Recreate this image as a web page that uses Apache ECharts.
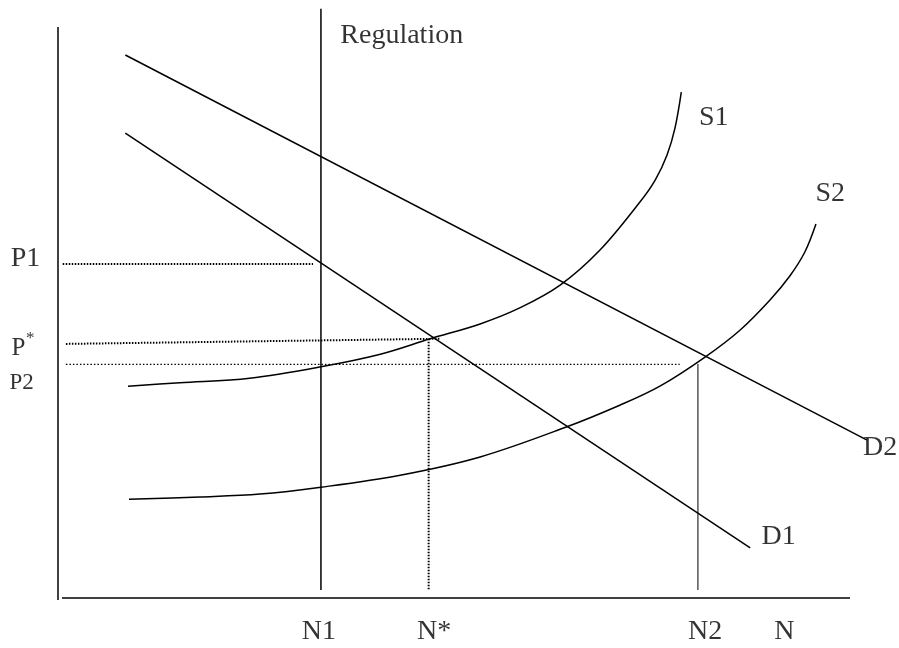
<!DOCTYPE html>
<html><head><meta charset="utf-8">
<script src="https://cdn.jsdelivr.net/npm/echarts@6/dist/echarts.min.js"></script>
<style>html,body{margin:0;padding:0;background:#fff}#c{width:899px;height:648px}</style>
</head><body><div id="c"></div>
<script>
// Data (abstract units: quantity N on x, price P on y; axes drawn 0..100)
const demandD1 = [[8.5, 81.4], [87.4, 8.8]];
const demandD2 = [[8.5, 95.1], [102.1, 27.7]];
const supplyS1 = [[8.84, 37.1], [15.4, 37.7], [24.2, 38.5], [33.2, 40.5], [40.7, 42.7], [47.0, 45.4], [53.3, 48.0], [58.3, 50.8], [63.4, 54.8], [68.4, 60.9], [73.5, 69.4], [75.4, 73.2], [76.9, 77.6], [77.9, 82.3], [78.7, 88.6]];
const supplyS2 = [[8.96, 17.3], [17.9, 17.7], [25.5, 18.2], [33.2, 19.4], [43.2, 21.5], [53.3, 24.7], [64.1, 29.9], [71.0, 33.8], [76.0, 37.1], [81.7, 42.2], [86.1, 46.9], [89.9, 52.2], [92.4, 56.4], [94.3, 60.6], [95.7, 65.5]];
const priceAxisLine = [[0, 100], [0, -0.35]];
const quantityAxisLine = [[0.5, 0], [100, 0]];
const regulationLine = [[33.2, 103.2], [33.2, 1.4]];
const nStarLine = [[46.8, 45.4], [46.8, 1.4]];
const n2Line = [[80.8, 41.0], [80.8, 1.4]];
const p1Line = [[0.6, 58.5], [32.2, 58.5]];
const pStarLine = [[1.0, 44.5], [48.2, 45.4]];
const p2Line = [[1.0, 40.9], [78.5, 40.9]];
const curveLabels = [['Regulation', 43.4, 98.4], ['S1', 82.8, 84.2], ['S2', 97.5, 70.9], ['D2', 103.8, 26.3], ['D1', 91.0, 10.7]];
const priceLabels = [['P1', -4.1, 59.4], ['P', -5.0, 43.7], ['P2', -4.6, 37.7]];
const starLabels = [['*', -3.5, 45.5]];
const quantityLabels = [['N1', 32.95, -5.95], ['N*', 47.5, -5.95], ['N2', 81.7, -5.95], ['N', 91.7, -5.95]];

const FONT = '"Liberation Serif", "Times New Roman", serif';
const chart = echarts.init(document.getElementById('c'), null, {renderer: 'canvas'});

function lineSeries(data, width, type) {
  return {
    type: 'line', data: data, showSymbol: false, symbol: 'none', clip: false, silent: true,
    lineStyle: {color: '#000', width: width, type: type || 'solid'}, z: 3
  };
}
function smoothSeries(data) {
  const s = lineSeries(data, 1.5);
  s.smooth = 0.35;
  return s;
}
function labelSeries(items, sizeMap) {
  return {
    type: 'scatter', symbolSize: 1, clip: false, silent: true,
    itemStyle: {color: 'transparent'},
    data: items.map(function (d) {
      return {name: d[0], value: [d[1], d[2]], label: {fontSize: sizeMap[d[0]] || 28}};
    }),
    label: {show: true, position: 'inside', formatter: '{b}', color: '#000',
      fontFamily: FONT, align: 'center', verticalAlign: 'middle'},
    z: 5
  };
}
const sizes = {'Regulation': 28, 'S1': 28, 'S2': 28, 'D1': 28, 'D2': 28, 'P1': 28, 'P': 25, 'P2': 23, '*': 17,
  'N1': 28, 'N*': 28, 'N2': 28, 'N': 28};

chart.setOption({
  backgroundColor: '#fff',
  animation: false,
  grid: {left: 58, right: 9.4, top: 27, bottom: 50},
  xAxis: {type: 'value', min: 0, max: 105, show: true, axisLine: {show: false},
    axisTick: {show: false}, axisLabel: {show: false}, splitLine: {show: false}},
  yAxis: {type: 'value', min: 0, max: 100, show: true, axisLine: {show: false},
    axisTick: {show: false}, axisLabel: {show: false}, splitLine: {show: false}},
  series: [
    lineSeries(priceAxisLine, 1.5),
    lineSeries(quantityAxisLine, 1.5),
    lineSeries(regulationLine, 1.5),
    lineSeries(nStarLine, 2, [1.5, 1.5]),
    lineSeries(n2Line, 1),
    lineSeries(p1Line, 2, [1.5, 1.5]),
    lineSeries(pStarLine, 2, [1.5, 1.5]),
    lineSeries(p2Line, 1.2, [1.5, 2]),
    lineSeries(demandD1, 1.5),
    lineSeries(demandD2, 1.5),
    smoothSeries(supplyS1),
    smoothSeries(supplyS2),
    labelSeries(curveLabels, sizes),
    labelSeries(priceLabels, sizes),
    labelSeries(starLabels, sizes),
    labelSeries(quantityLabels, sizes)
  ]
});
</script>
</body></html>
